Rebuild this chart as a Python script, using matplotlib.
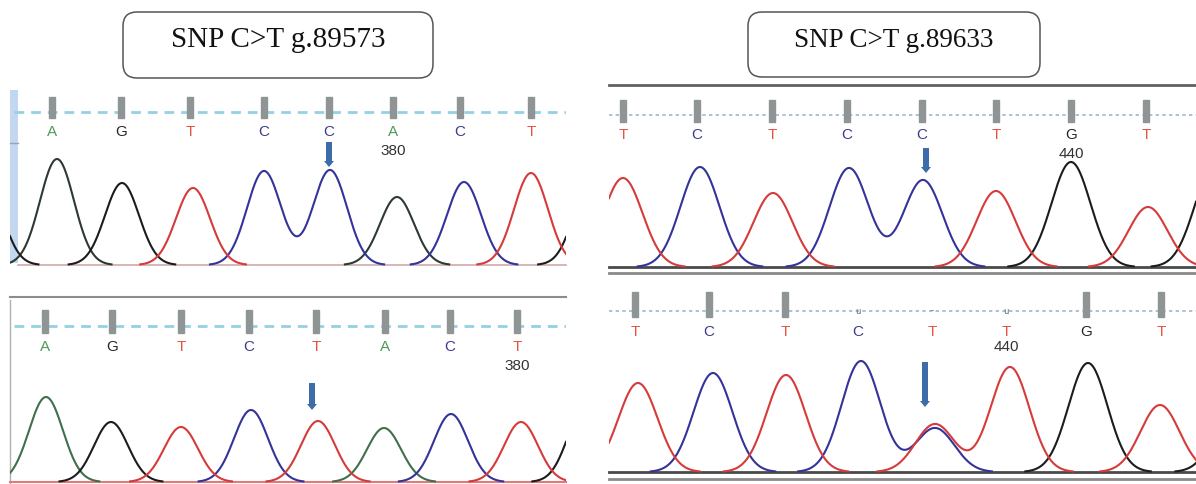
import numpy as np
import matplotlib
matplotlib.use("Agg")
import matplotlib.pyplot as plt
from matplotlib.patches import FancyBboxPatch, Rectangle, FancyArrow

W, H = 1196, 484

# ---- data (x in scan units, h in signal units)
# dye channel per peak: A, C, G, T (off-panel neighbours included so edges look right)

# top-left: wild type around g.89573
tl_bases = list("AGTCCACT")
tl_calls = [52, 121, 190, 264, 329, 393, 460, 531]
tl_peak_x = [-15, 57, 122, 193, 264, 330, 397, 464, 531, 592]
tl_peak_h = [85, 106, 82, 77, 94, 95, 68, 83, 92, 90]
tl_peak_dye = list("GAGTCCACTG")
tl_number = (5, "380")

# bottom-left: variant around g.89573
bl_bases = list("AGTCTACT")
bl_calls = [45, 112, 181, 249, 316, 385, 450, 517]
bl_peak_x = [46, 111, 181, 251, 318, 384, 451, 521, 585]
bl_peak_h = [85, 60, 55, 72, 61, 54, 68, 60, 75]
bl_peak_dye = list("AGTCTACTG")
bl_number = (7, "380")

# top-right: wild type around g.89633
tr_bases = list("TCTCCTGT")
tr_calls = [623, 697, 772, 847, 922, 996, 1071, 1146]
tr_peak_x = [623, 700, 773, 849, 923, 996, 1071, 1148, 1214]
tr_peak_h = [89, 100, 74, 99, 87, 76, 105, 60, 100]
tr_peak_dye = list("TCTCCTGTG")
tr_number = (6, "440")

# bottom-right: heterozygous C/T around g.89633
br_bases = list("TCTCTTGT")
br_calls = [635, 709, 785, 858, 932, 1006, 1086, 1161]
br_weak = {3: "u", 4: "-", 5: "u"}
br_peak_x = [638, 713, 786, 861, 935, 935, 1010, 1088, 1160, 1235]
br_peak_h = [89, 99, 97, 111, 48, 44, 105, 109, 67, 66]
br_peak_dye = list("TCTCTCTGTG")
br_number = (5, "440")

titles = ["SNP C>T g.89573", "SNP C>T g.89633"]

TRACE = {"A": "#3f6f4c", "C": "#33339a", "G": "#1c1c1c", "T": "#d63a3a"}
LETTER = {"A": "#4f9a5c", "C": "#3c3c8c", "G": "#262626", "T": "#e4553f"}
ARROW = "#3d6ca8"


def panel(fig, box, base_y):
    x0, y0, x1, y1 = box
    ax = fig.add_axes([x0 / W, 1 - y1 / H, (x1 - x0) / W, (y1 - y0) / H])
    ax.set_xlim(x0, x1)
    ax.set_ylim(base_y - y1, base_y - y0)
    ax.set_axis_off()
    return ax


def draw_chrom(ax, lay, bases, calls, px, ph, dyes, number, weak=None, colors=None):
    colors = {**TRACE, **(colors or {})}
    b = lay["base_y"]
    x0, x1 = lay["box"][0], lay["box"][2]
    xs = np.linspace(x0, x1, 2000)
    s2 = 2 * lay["sigma"] ** 2
    for dye in "AGCT":
        sig = np.zeros_like(xs)
        for x, h, d in zip(px, ph, dyes):
            if d == dye:
                sig += h * np.exp(-(xs - x) ** 2 / s2)
        sig[sig < 0.6] = np.nan
        ax.plot(xs, sig, color=colors[dye], lw=1.5, zorder=3)

    # base-call guide line
    gy = b - lay["guide_y"]
    if lay["dotted"]:
        ax.plot([x0, x1], [gy, gy], color="#9fb6c8", lw=1.2, dashes=(2, 2), zorder=1)
    else:
        ax.plot([x0 + 4, x1], [gy, gy], color="#93d2e2", lw=2, dashes=(3.5, 2.5), zorder=1)

    bt, bb = lay["bar"]
    for i, (base, x) in enumerate(zip(bases, calls)):
        if weak and i in weak:
            ax.text(x, b - bb + 6, weak[i], ha="center", va="center", fontsize=6,
                    color="#4a6a80", zorder=2)
        else:
            ax.add_patch(Rectangle((x - 3, b - bb), 6, bb - bt, color="#8f9595", zorder=2))
        ax.text(x, b - lay["label_y"], base, ha="center", va="center", fontsize=11,
                color=LETTER[base], family="Liberation Sans")

    i, txt = number
    ax.text(calls[i], b - lay["num_y"], txt, ha="center", va="center", fontsize=11,
            color="#333333", family="Liberation Sans")

    ax_x, a_top, a_tip = lay["arrow"]
    ax.add_patch(FancyArrow(ax_x, b - a_top, 0, -(a_tip - a_top), width=6, head_width=10,
                            head_length=6, length_includes_head=True, color=ARROW,
                            lw=0, zorder=4))


LAYOUT = {
    "tl": dict(box=(10, 85, 566, 270), base_y=265, sigma=17, dotted=False,
               guide_y=112, bar=(97, 118), label_y=132, num_y=151, arrow=(329, 142, 167)),
    "bl": dict(box=(10, 298, 566, 484), base_y=482, sigma=17, dotted=False,
               guide_y=326, bar=(310, 333), label_y=347, num_y=366, arrow=(312, 383, 410)),
    "tr": dict(box=(609, 84, 1196, 280), base_y=267, sigma=19.5, dotted=True,
               guide_y=115, bar=(100, 122), label_y=135, num_y=154, arrow=(926, 148, 173)),
    "br": dict(box=(609, 282, 1196, 484), base_y=472, sigma=19.5, dotted=True,
               guide_y=311, bar=(292, 317), label_y=332, num_y=347, arrow=(925, 362, 407)),
}

fig = plt.figure(figsize=(W / 100, H / 100), dpi=100)
bg = fig.add_axes([0, 0, 1, 1])
bg.set_xlim(0, W)
bg.set_ylim(H, 0)
bg.set_axis_off()

# title boxes
for (bx0, by0, bx1, by1), t, fs in zip([(123, 12, 433, 78), (748, 12, 1040, 77)], titles,
                                       [21, 19.5]):
    bg.add_patch(FancyBboxPatch((bx0, by0), bx1 - bx0, by1 - by0,
                                boxstyle="round,pad=0,rounding_size=14",
                                fc="white", ec="#555555", lw=1.1))
    bg.text((bx0 + bx1) / 2, 47, t, ha="center", va="baseline", fontsize=fs,
            family="Liberation Serif", color="#111111")

# panel frames / baselines
bg.add_patch(Rectangle((10, 90), 8, 173, color="#c3d7f1", lw=0))
bg.plot([10, 18], [143, 143], color="#9aa4b0", lw=1)
bg.plot([18, 566], [265, 265], color="#cfa9a9", lw=1.2)
bg.plot([10, 566], [297, 297], color="#8c8c8c", lw=1.5)
bg.plot([10, 10], [300, 484], color="#b0b0b0", lw=1)
bg.plot([10, 566], [482, 482], color="#e27a7a", lw=1.5)
bg.plot([609, 1196], [85, 85], color="#606060", lw=2)
bg.plot([609, 1196], [267, 267], color="#4a4a4a", lw=2)
bg.plot([609, 1196], [273, 273], color="#8a8a8a", lw=2)
bg.plot([609, 1196], [472, 472], color="#4a4a4a", lw=2)
bg.plot([609, 1196], [479, 479], color="#8a8a8a", lw=2)

draw_chrom(panel(fig, LAYOUT["tl"]["box"], 265), LAYOUT["tl"], tl_bases, tl_calls,
           tl_peak_x, tl_peak_h, tl_peak_dye, tl_number, colors={"A": "#2c3a31"})
draw_chrom(panel(fig, LAYOUT["bl"]["box"], 482), LAYOUT["bl"], bl_bases, bl_calls,
           bl_peak_x, bl_peak_h, bl_peak_dye, bl_number)
draw_chrom(panel(fig, LAYOUT["tr"]["box"], 267), LAYOUT["tr"], tr_bases, tr_calls,
           tr_peak_x, tr_peak_h, tr_peak_dye, tr_number)
draw_chrom(panel(fig, LAYOUT["br"]["box"], 472), LAYOUT["br"], br_bases, br_calls,
           br_peak_x, br_peak_h, br_peak_dye, br_number, weak=br_weak)

fig.savefig("out.png", dpi=100)
